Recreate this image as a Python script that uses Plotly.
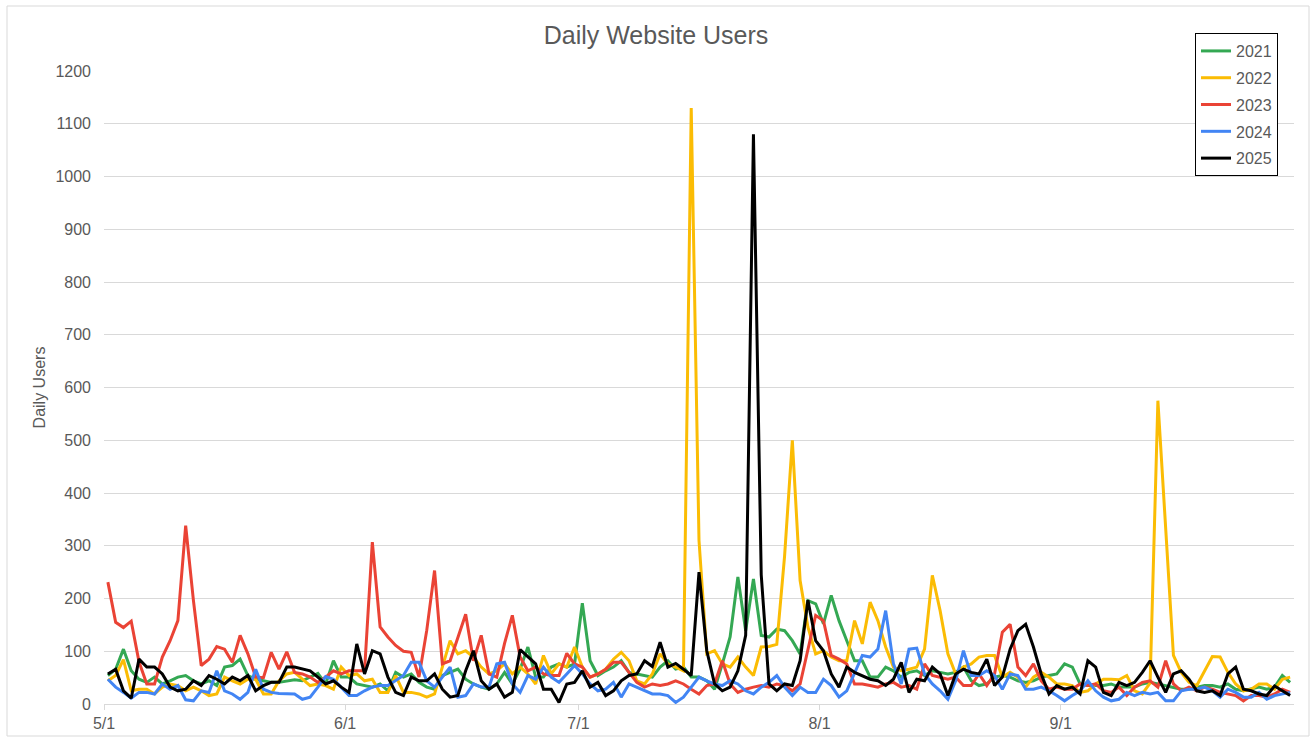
import pandas as pd
import plotly.graph_objects as go

dates = pd.date_range("2025-05-01", "2025-09-30", freq="D")

y2021 = [54, 66, 104, 63, 47, 41, 51, 38, 44, 51, 54, 44, 38, 44, 35, 70, 73, 85, 54, 47,
         44, 41, 41, 44, 46, 44, 51, 58, 38, 82, 51, 51, 38, 35, 32, 38, 25, 60, 51, 57,
         41, 32, 28, 54, 60, 66, 47, 38, 32, 28, 38, 60, 38, 66, 108, 51, 51, 70, 76, 70,
         76, 191, 82, 54, 63, 70, 82, 60, 57, 54, 51, 70, 82, 66, 70, 51, 51, 44, 28, 76,
         127, 241, 139, 237, 130, 127, 142, 139, 120, 95, 196, 190, 152, 206, 158, 120, 82, 82, 51, 51,
         70, 63, 51, 60, 63, 54, 63, 60, 57, 60, 70, 44, 35, 38, 51, 54, 51, 44, 41, 44,
         51, 54, 57, 76, 70, 38, 35, 35, 35, 38, 32, 32, 32, 38, 41, 38, 35, 32, 28, 28,
         32, 35, 35, 32, 38, 28, 25, 28, 32, 28, 32, 54, 41]

y2022 = [44, 54, 84, 25, 28, 28, 19, 32, 38, 35, 25, 32, 25, 16, 19, 51, 44, 38, 47, 47,
         19, 19, 44, 57, 60, 47, 35, 38, 35, 28, 70, 54, 57, 44, 47, 22, 22, 54, 22, 22,
         19, 13, 19, 70, 120, 95, 101, 89, 70, 57, 63, 76, 57, 70, 57, 38, 92, 57, 76, 70,
         108, 70, 51, 57, 66, 85, 98, 82, 44, 38, 57, 95, 76, 70, 63, 1130, 310, 95, 101, 76,
         70, 89, 70, 54, 108, 109, 113, 280, 500, 234, 146, 95, 101, 89, 82, 82, 158, 114, 193, 158,
         108, 70, 63, 66, 70, 104, 244, 177, 95, 57, 70, 76, 89, 92, 92, 51, 60, 51, 32, 51,
         60, 51, 38, 38, 35, 22, 25, 38, 47, 47, 46, 54, 25, 19, 40, 575, 330, 92, 60, 41,
         35, 63, 90, 89, 60, 38, 25, 28, 38, 38, 28, 47, 51]

y2023 = [231, 155, 145, 157, 80, 38, 38, 89, 120, 158, 338, 196, 73, 85, 109, 104, 79, 130, 95, 51,
         50, 98, 66, 99, 60, 57, 51, 41, 51, 63, 57, 63, 63, 63, 307, 146, 127, 111, 100, 98,
         51, 140, 253, 76, 82, 127, 170, 82, 130, 57, 51, 115, 168, 89, 63, 70, 57, 54, 54, 96,
         76, 70, 51, 57, 66, 79, 79, 60, 41, 32, 38, 35, 38, 44, 38, 28, 19, 35, 38, 82,
         38, 22, 28, 32, 35, 32, 38, 35, 25, 38, 101, 168, 158, 92, 85, 76, 38, 38, 35, 32,
         38, 41, 32, 35, 28, 76, 54, 51, 47, 51, 35, 35, 57, 35, 57, 136, 151, 70, 54, 76,
         44, 28, 32, 28, 28, 38, 35, 38, 25, 22, 32, 16, 32, 41, 44, 32, 82, 38, 25, 32,
         25, 32, 28, 22, 19, 16, 6, 16, 16, 13, 19, 28, 22]

y2024 = [47, 32, 22, 11, 22, 22, 19, 38, 28, 35, 8, 6, 25, 22, 63, 25, 19, 9, 22, 66,
         28, 22, 20, 20, 19, 9, 13, 32, 52, 47, 32, 16, 16, 25, 32, 35, 35, 44, 54, 79,
         79, 44, 32, 51, 70, 13, 16, 38, 32, 32, 76, 79, 38, 22, 54, 47, 70, 51, 41, 57,
         73, 57, 38, 25, 28, 41, 13, 38, 32, 25, 19, 19, 16, 3, 13, 32, 51, 44, 38, 35,
         44, 38, 25, 19, 32, 41, 54, 32, 16, 32, 22, 22, 47, 35, 13, 25, 57, 92, 89, 104,
         177, 76, 38, 104, 106, 57, 38, 25, 9, 44, 101, 54, 54, 63, 54, 28, 57, 54, 28, 28,
         32, 25, 16, 6, 16, 25, 44, 25, 13, 6, 9, 22, 16, 22, 19, 22, 6, 6, 25, 28,
         28, 32, 25, 13, 28, 22, 13, 13, 22, 9, 16, 19, 22]

y2025 = [57, 66, 25, 11, 85, 70, 70, 57, 32, 25, 28, 44, 35, 54, 47, 38, 51, 44, 54, 25,
         35, 41, 41, 70, 70, 66, 63, 51, 38, 44, 32, 22, 114, 57, 101, 95, 51, 22, 16, 51,
         44, 44, 57, 28, 13, 16, 63, 101, 44, 28, 38, 13, 22, 103, 89, 76, 28, 28, 3, 38,
         41, 63, 32, 41, 16, 25, 44, 54, 57, 82, 71, 117, 70, 77, 66, 54, 250, 101, 38, 25,
         32, 63, 130, 1080, 245, 38, 25, 38, 35, 82, 197, 120, 101, 57, 32, 70, 60, 54, 47, 44,
         35, 47, 79, 22, 47, 44, 70, 57, 16, 57, 66, 60, 57, 85, 35, 51, 104, 139, 151, 108,
         57, 19, 35, 28, 32, 19, 82, 70, 22, 16, 41, 35, 41, 60, 82, 51, 22, 57, 63, 47,
         25, 22, 25, 16, 57, 70, 28, 25, 19, 16, 34, 25, 16]

series_names = ["2021", "2022", "2023", "2024", "2025"]
series_values = [y2021, y2022, y2023, y2024, y2025]
series_colors = ["#34A853", "#FBBC04", "#EA4335", "#4285F4", "#000000"]

month_ticks = pd.to_datetime(["2025-05-01", "2025-06-01", "2025-07-01", "2025-08-01", "2025-09-01"])
month_labels = ["5/1", "6/1", "7/1", "8/1", "9/1"]

FONT = "Liberation Sans, Arial, sans-serif"
GRAY = "#595959"

fig = go.Figure()
for name, vals, col in zip(series_names, series_values, series_colors):
    fig.add_trace(go.Scatter(
        x=dates, y=vals, name=name, mode="lines",
        line=dict(color=col, width=3),
        xperiod=86400000, xperiodalignment="middle",
        legendgroup=name,
    ))

fig.update_layout(
    width=1312, height=738,
    paper_bgcolor="white", plot_bgcolor="white",
    margin=dict(l=104, r=18, t=71, b=34, autoexpand=False),
    font=dict(family=FONT, color=GRAY, size=16),
    title=dict(text="Daily Website Users", x=0.5, xanchor="center",
               y=1 - 35 / 738, yanchor="middle", yref="container",
               font=dict(size=25, color=GRAY, family=FONT)),
    showlegend=True,
    legend=dict(x=0.9168, y=1.06, xanchor="left", yanchor="top",
                bordercolor="#000000", borderwidth=1, bgcolor="white",
                font=dict(size=16, color=GRAY, family=FONT),
                tracegroupgap=3, itemwidth=30),
    hovermode=False,
)

fig.update_xaxes(
    type="date",
    range=["2025-05-01", "2025-10-01"],
    tickvals=month_ticks, ticktext=month_labels,
    showgrid=False, showline=True, linecolor="#d9d9d9", linewidth=1,
    ticks="outside", ticklen=5, tickcolor="#d9d9d9",
    tickfont=dict(size=16, color=GRAY),
    zeroline=False,
)

fig.update_yaxes(
    range=[0, 1200], dtick=100,
    showgrid=True, gridcolor="#d9d9d9", gridwidth=1,
    zeroline=False, showline=False,
    tickfont=dict(size=16, color=GRAY),
    ticklabelstandoff=12,
    title=dict(text="Daily Users", font=dict(size=16, color=GRAY), standoff=5),
)

# outer chart border
fig.add_shape(type="rect", xref="paper", yref="paper",
              x0=(7 - 104) / 1190, x1=(1309 - 104) / 1190,
              y0=(704 - 736) / 633, y1=(704 - 6) / 633,
              line=dict(color="#d9d9d9", width=1), layer="below")

fig.write_html("out.html",
               config={"displayModeBar": False},
               post_script="document.body.style.margin='0';document.body.style.overflow='hidden';")
